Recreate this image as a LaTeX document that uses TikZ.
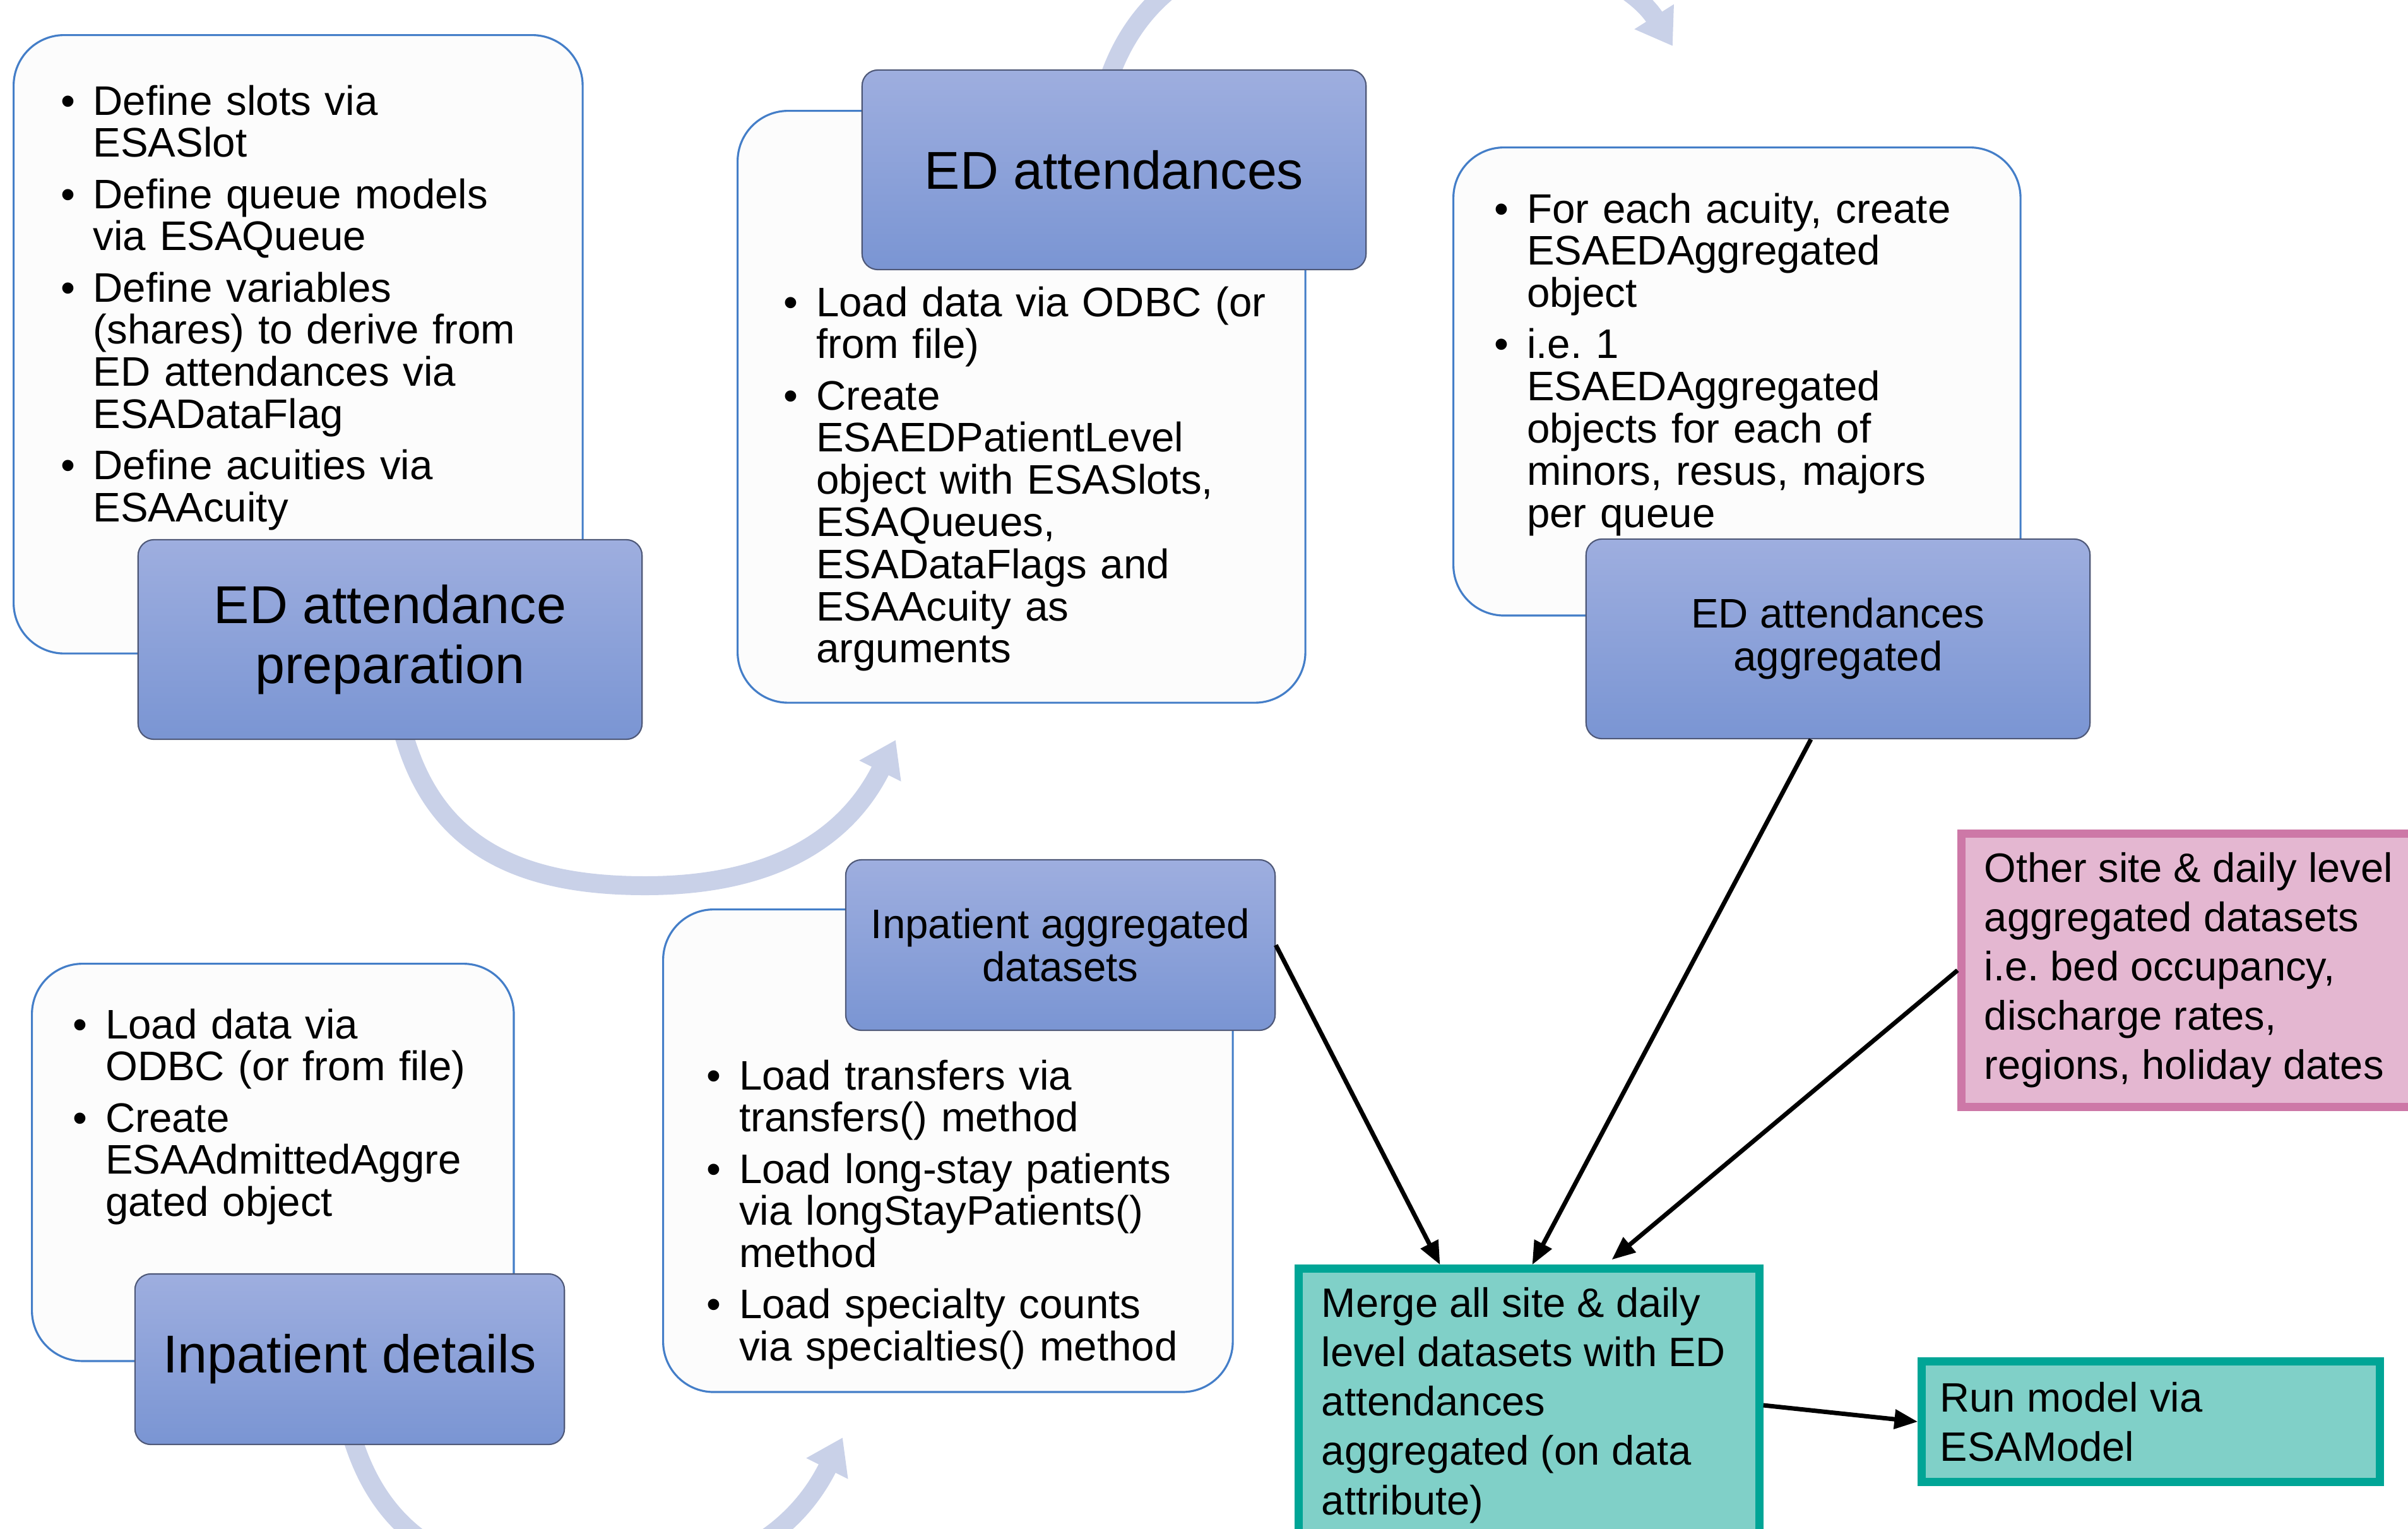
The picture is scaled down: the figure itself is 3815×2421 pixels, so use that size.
\documentclass[tikz,border=0pt]{standalone}
\usepackage{fontspec}
\setmainfont{Liberation Sans}
\usetikzlibrary{arrows.meta}

\definecolor{notefill}{RGB}{252,252,252}
\definecolor{noteline}{RGB}{68,126,200}
\definecolor{headtop}{RGB}{158,174,223}
\definecolor{headbot}{RGB}{122,149,211}
\definecolor{headline}{RGB}{78,88,120}
\definecolor{cyclecol}{RGB}{201,209,232}
\definecolor{tealfill}{RGB}{128,208,200}
\definecolor{tealline}{RGB}{0,165,150}
\definecolor{pinkfill}{RGB}{228,183,209}
\definecolor{pinkline}{RGB}{205,120,167}

\newcommand{\bitem}[1]{\hangindent=0.515cm\hangafter=1\makebox[0.515cm][l]{\textbullet}#1\par}

\tikzset{
  notebox/.style={draw=noteline, fill=notefill, line width=0.9pt, rounded corners=0.8cm, anchor=north west, inner sep=0pt},
  headbox/.style={draw=headline, line width=0.6pt, rounded corners=0.25cm, top color=headtop, bottom color=headbot, align=center, inner sep=0pt},
  bighead/.style={headbox, minimum width=7.98cm, minimum height=3.16cm, font=\fontsize{24pt}{27pt}\selectfont},
  smallhead/.style={headbox, minimum width=6.8cm, minimum height=2.7cm, font=\fontsize{18.6pt}{19.3pt}\selectfont},
  listtext/.style={anchor=base west, inner sep=0pt, text width=9cm, font=\fontsize{18.6pt}{19pt}\selectfont, execute at begin node={\setlength{\parskip}{4.1pt}}},
  databox/.style={line width=0.13cm, inner ysep=0pt, align=flush left, font=\fontsize{18.5pt}{22.2pt}\selectfont},
  cyclearrow/.style={cyclecol, line width=0.30cm, -{Triangle[length=0.55cm,width=0.7cm]}},
  flowarrow/.style={line width=0.07cm, -{Triangle[length=0.37cm,width=0.3cm]}}
}

\begin{document}
\begin{tikzpicture}[x=0.01cm, y=-0.01cm]
  \useasboundingbox (0,0) rectangle (3815,2421);
  \clip (0,0) rectangle (3815,2421);

  \draw [cyclearrow] (1755,130) .. controls (1813,-45) and (1968,-108) .. (2202,-108) .. controls (2436,-108) and (2585,-30) .. (2650,73);
  \draw [cyclearrow] (640,1165) .. controls (690,1340) and (822,1403) .. (1022,1403) .. controls (1222,1403) and (1340,1330) .. (1419,1172);
  \draw [cyclearrow] (556,2270) .. controls (606,2445) and (738,2508) .. (938,2508) .. controls (1138,2508) and (1256,2435) .. (1335,2277);

  \node [notebox, minimum width=9.01cm, minimum height=9.79cm] (prepnote) at (20,54) {};
  \node [notebox, minimum width=8.99cm, minimum height=9.37cm] (attnote) at (1167,174) {};
  \node [notebox, minimum width=8.98cm, minimum height=7.41cm] (aggnote) at (2301,232) {};
  \node [notebox, minimum width=7.63cm, minimum height=6.29cm] (inpnote) at (49,1525) {};
  \node [notebox, minimum width=9.02cm, minimum height=7.64cm] (inpaggnote) at (1049,1439) {};

  \node [listtext] (preptext) at (95.5,182) {\bitem{Define slots via\newline ESASlot}\bitem{Define queue models\newline via ESAQueue}\bitem{Define variables\newline (shares) to derive from\newline ED attendances via\newline ESADataFlag}\bitem{Define acuities via\newline ESAAcuity}};
  \node [listtext] (atttext) at (1241,501) {\bitem{Load data via ODBC (or\newline from file)}\bitem{Create\newline ESAEDPatientLevel\newline object with ESASlots,\newline ESAQueues,\newline ESADataFlags and\newline ESAAcuity as\newline arguments}};
  \node [listtext] (aggtext) at (2367,353) {\bitem{For each acuity, create\newline ESAEDAggregated\newline object}\bitem{i.e.\ 1\newline ESAEDAggregated\newline objects for each of\newline minors, resus, majors\newline per queue}};
  \node [listtext] (inptext) at (115,1645) {\bitem{Load data via\newline ODBC (or from file)}\bitem{Create\newline ESAAdmittedAggre\newline gated object}};
  \node [listtext] (inpaggtext) at (1119,1726) {\bitem{Load transfers via\newline transfers() method}\bitem{Load long-stay patients\newline via longStayPatients()\newline method}\bitem{Load specialty counts\newline via specialties() method}};

  \node [bighead] (prephead) at (618,1013) {ED attendance\\preparation};
  \node [bighead] (atthead) at (1765,269) {ED attendances};
  \node [bighead, font=\fontsize{18.6pt}{19.3pt}\selectfont] (agghead) at (2912,1012) {ED attendances\\aggregated};
  \node [smallhead, font=\fontsize{24pt}{27pt}\selectfont] (inphead) at (554,2153) {Inpatient details};
  \node [smallhead] (inpagghead) at (1680,1497) {Inpatient aggregated\\datasets};

  \node [databox, draw=tealline, fill=tealfill, minimum width=7.29cm, minimum height=4.32cm, inner xsep=0.36cm, text width=6.57cm] (merge) at (2422.5,2226) {Merge all site \& daily\\level datasets with ED\\attendances\\aggregated (on data\\attribute)};
  \node [databox, draw=tealline, fill=tealfill, minimum width=7.25cm, minimum height=1.9cm, inner xsep=0.29cm, text width=6.67cm] (runmodel) at (3407.5,2252) {Run model via\\ESAModel};
  \node [databox, draw=pinkline, fill=pinkfill, minimum width=7.29cm, minimum height=4.32cm, inner xsep=0.36cm, text width=6.57cm] (otherdata) at (3472.5,1537) {Other site \& daily level\\aggregated datasets\\i.e.\ bed occupancy,\\discharge rates,\\regions, holiday dates};

  \draw [flowarrow] (inpagghead.east) -- ([xshift=2.3cm]merge.north west);
  \draw [flowarrow] ([xshift=-0.43cm]agghead.south) -- ([xshift=3.76cm]merge.north west);
  \draw [flowarrow] (otherdata.west) -- ([xshift=5.02cm,yshift=0.08cm]merge.north west);
  \draw [flowarrow] (merge.east) -- (runmodel.west);
\end{tikzpicture}
\end{document}
